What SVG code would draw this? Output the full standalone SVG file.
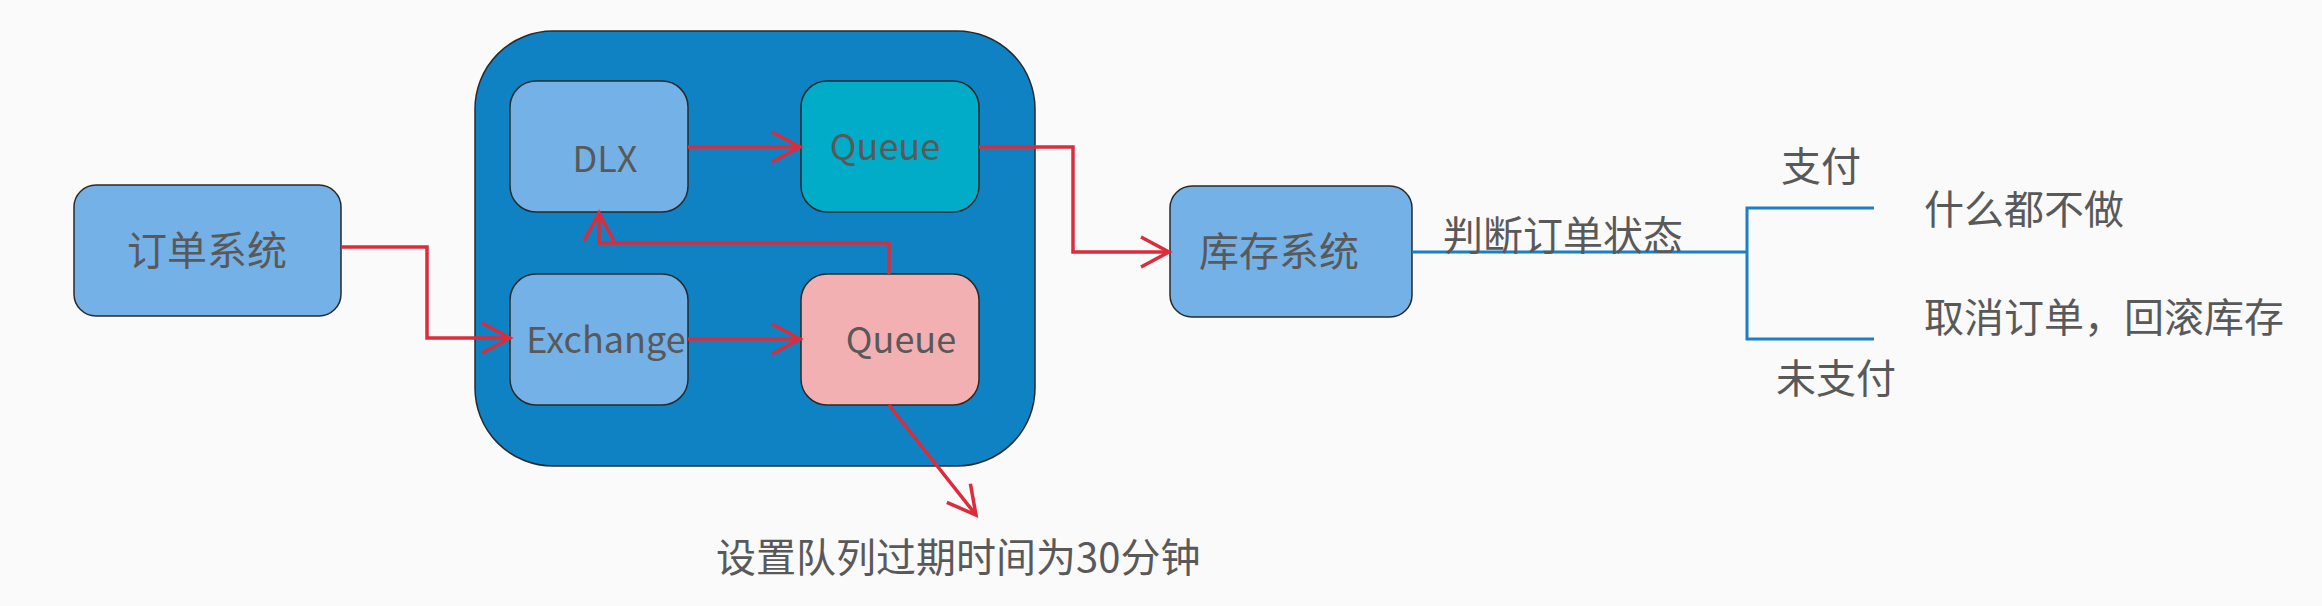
<svg xmlns="http://www.w3.org/2000/svg" width="2322" height="606" viewBox="0 0 2322 606">
<style>
.t{font-family:"Noto Sans CJK SC","Noto Sans",sans-serif;fill:#595959;font-size:40px}
.l{font-family:"Noto Sans CJK SC","Noto Sans",sans-serif;fill:#595959;font-size:36px}
.box{stroke:#2a2a2a;stroke-width:1.5}
.red{fill:none;stroke:#dc2c3c;stroke-width:3.5;stroke-linejoin:miter}
.blue{fill:none;stroke:#1a7fc4;stroke-width:3}
</style>
<defs>
<marker id="ah" markerUnits="userSpaceOnUse" viewBox="-34 -20 38 40" markerWidth="38" markerHeight="40" refX="0" refY="0" orient="auto">
<path d="M-28,-15 L0,0 L-28,15" fill="none" stroke="#dc2c3c" stroke-width="3.5"/>
</marker>
</defs>
<rect width="2322" height="606" fill="#fafafa"/>
<g id="broker">
<rect class="box" x="475" y="31" width="560" height="435" rx="78" ry="78" fill="#0f82c3"/>
</g>
<g id="order">
<rect class="box" x="74" y="185" width="267" height="131" rx="22" fill="#74b1e7"/>
<text class="t" x="207" y="265" text-anchor="middle">订单系统</text>
</g>
<g id="dlx">
<rect class="box" x="510" y="81" width="178" height="131" rx="26" fill="#74b1e7"/>
<text class="l" x="605" y="172" text-anchor="middle">DLX</text>
</g>
<g id="queue-dead">
<rect class="box" x="801" y="81" width="178" height="131" rx="26" fill="#00acc7"/>
<text class="l" x="885" y="160" text-anchor="middle">Queue</text>
</g>
<g id="exchange">
<rect class="box" x="510" y="274" width="178" height="131" rx="26" fill="#74b1e7"/>
<text class="l" x="606" y="353" text-anchor="middle">Exchange</text>
</g>
<g id="queue-ttl">
<rect class="box" x="801" y="274" width="178" height="131" rx="26" fill="#f2b0b2"/>
<text class="l" x="901" y="353" text-anchor="middle">Queue</text>
</g>
<g id="stock">
<rect class="box" x="1170" y="186" width="242" height="131" rx="22" fill="#74b1e7"/>
<text class="t" x="1279" y="266" text-anchor="middle">库存系统</text>
</g>
<g id="connectors">
<path class="red" d="M341,247 H427 V338 H510" marker-end="url(#ah)"/>
<path class="red" d="M688,339 H800" marker-end="url(#ah)"/>
<path class="red" d="M688,147 H800" marker-end="url(#ah)"/>
<path class="red" d="M889,274 V243 H599 V213" marker-end="url(#ah)"/>
<path class="red" d="M979,147 H1073 V252 H1169" marker-end="url(#ah)"/>
<path class="red" d="M889,405 L976,515" marker-end="url(#ah)"/>
<path class="blue" d="M1412,252 H1747"/>
<path class="blue" d="M1874,208 H1747 V339 H1874"/>
</g>
<g id="labels">
<text class="t" x="1443" y="250">判断订单状态</text>
<text class="t" x="1821" y="181" text-anchor="middle">支付</text>
<text class="t" x="1836" y="393" text-anchor="middle">未支付</text>
<text class="t" x="1924" y="224">什么都不做</text>
<text class="t" x="1924" y="332">取消订单，回滚库存</text>
<text class="t" x="716" y="572">设置队列过期时间为30分钟</text>
</g>
</svg>
